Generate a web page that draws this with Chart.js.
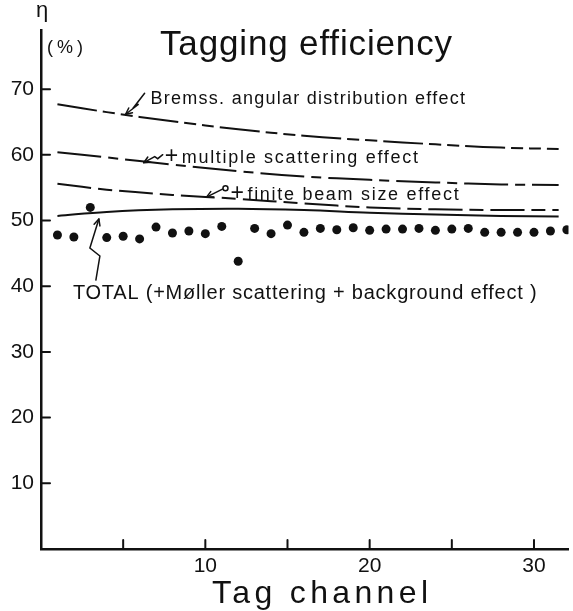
<!DOCTYPE html>
<html>
<head>
<meta charset="utf-8">
<script src="https://cdn.jsdelivr.net/npm/chart.js@4.4.1/dist/chart.umd.min.js"></script>
<style>
  html, body { margin: 0; padding: 0; background: #fff; }
  canvas { display: block; }
</style>
</head>
<body>
<canvas id="taggingChart" width="573" height="611"></canvas>
<script>
// Measured tagging efficiency per tag channel (%)
const channels = [1, 2, 3, 4, 5, 6, 7, 8, 9, 10, 11, 12, 13, 14, 15, 16,
  17, 18, 19, 20, 21, 22, 23, 24, 25, 26, 27, 28, 29, 30, 31, 32];
const efficiency = [47.8, 47.5, 52.0, 47.4, 47.6, 47.2, 49.0, 48.1, 48.4, 48.0,
  49.1, 43.8, 48.8, 48.0, 49.3, 48.2, 48.8, 48.6, 48.9, 48.5,
  48.7, 48.7, 48.8, 48.5, 48.7, 48.8, 48.2, 48.2, 48.2, 48.2, 48.4, 48.6];

// Calculated curves, sampled at these channels
const curveChannels = [1, 4, 8, 12, 16, 20, 24, 28, 31.5];
const bremssCurve = [67.7, 66.5, 65.1, 63.9, 62.9, 62.2, 61.6, 61.1, 60.9];
const multipleCurve = [60.4, 59.6, 58.5, 57.5, 56.7, 56.2, 55.8, 55.5, 55.4];
const beamSizeCurve = [55.6, 54.7, 53.9, 53.3, 52.6, 52.0, 51.7, 51.6, 51.6];
const totalCurve = [50.7, 51.3, 51.7, 51.8, 51.6, 51.2, 50.9, 50.7, 50.6];

// Axis ticks
const xTickValues = [5, 10, 15, 20, 25, 30];
const xTickLabels = [10, 20, 30];
const yTickValues = [10, 20, 30, 40, 50, 60, 70];

const FONT = '"Liberation Sans", Arial, sans-serif';
const INK = '#111';

const toPoints = (xs, ys) => xs.map((x, i) => ({ x, y: ys[i] }));

function curveDataset(label, values, dash) {
  return {
    label,
    type: 'line',
    data: toPoints(curveChannels, values),
    borderColor: INK,
    borderWidth: 2,
    borderDash: dash,
    pointRadius: 0,
    tension: 0.4,
    fill: false,
  };
}

// Draws text stretched between two x positions with even letter spacing
function fitText(ctx, text, left, right, baseline, size) {
  ctx.font = `${size}px ${FONT}`;
  ctx.letterSpacing = '0px';
  const w = ctx.measureText(text).width;
  const n = [...text].length;
  const spacing = n > 1 ? (right - left - w) / (n - 1) : 0;
  ctx.letterSpacing = `${spacing}px`;
  ctx.textAlign = 'left';
  ctx.textBaseline = 'alphabetic';
  ctx.fillText(text, left, baseline);
  ctx.letterSpacing = '0px';
}

function polyline(ctx, pts, ox, oy) {
  ctx.beginPath();
  pts.forEach(([dx, dy], i) => {
    if (i === 0) ctx.moveTo(ox + dx, oy + dy);
    else ctx.lineTo(ox + dx, oy + dy);
  });
  ctx.stroke();
}

// Open arrow head at the last point of a polyline
function arrowHead(ctx, pts, ox, oy, len = 7) {
  const [x1, y1] = pts[pts.length - 2];
  const [x2, y2] = pts[pts.length - 1];
  const a = Math.atan2(y2 - y1, x2 - x1);
  ctx.beginPath();
  for (const s of [-0.45, 0.45]) {
    ctx.moveTo(ox + x2, oy + y2);
    ctx.lineTo(ox + x2 - len * Math.cos(a + s), oy + y2 - len * Math.sin(a + s));
  }
  ctx.stroke();
}

// Curve labels, anchored in data units (channel, efficiency); arrows are
// pixel offsets from the anchor
const curveLabels = [
  { text: 'Bremss. angular distribution effect', at: [6.67, 67.7], endCh: 25.8, size: 18,
    arrow: [[-6, -11], [-16, 2], [-12, 0], [-25, 10]] },
  { plus: true, text: 'multiple scattering effect', at: [7.59, 58.8], endCh: 22.94, size: 18,
    arrow: [[-3, -8], [-8, -4], [-11, -6], [-22, 0]] },
  { plus: true, text: 'finite beam size effect', at: [11.59, 53.1], endCh: 25.42, size: 18,
    arrow: [[-9, -11], [-25, -3]], loop: [-6, -12] },
  { text: 'TOTAL (+Møller scattering + background effect )', at: [1.94, 38.05], endCh: 30.16, size: 20,
    arrow: [[23, -19], [27, -43], [17, -51], [26, -80]] },
];

const annotationPlugin = {
  id: 'annotations',
  afterDraw(chart) {
    const { ctx, scales: { x, y } } = chart;
    ctx.save();
    ctx.fillStyle = INK;
    ctx.strokeStyle = INK;
    ctx.lineCap = 'round';

    // inward tick marks
    ctx.lineWidth = 2;
    xTickValues.forEach(v => {
      const px = x.getPixelForValue(v);
      ctx.beginPath();
      ctx.moveTo(px, y.bottom);
      ctx.lineTo(px, y.bottom - 9);
      ctx.stroke();
    });
    yTickValues.forEach(v => {
      const py = y.getPixelForValue(v);
      ctx.beginPath();
      ctx.moveTo(x.left, py);
      ctx.lineTo(x.left + 9, py);
      ctx.stroke();
    });

    // titles
    fitText(ctx, 'Tagging efficiency', 160, 452, 55, 35);
    ctx.font = `22px ${FONT}`;
    ctx.fillText('η', 36, 17);
    fitText(ctx, '(%)', 47, 83, 53, 18);
    fitText(ctx, 'Tag channel', 212, 428, 603, 32);

    // curve labels and arrows
    ctx.lineWidth = 1.5;
    curveLabels.forEach(lab => {
      const ox = x.getPixelForValue(lab.at[0]);
      const oy = y.getPixelForValue(lab.at[1]);
      const right = x.getPixelForValue(lab.endCh);
      let left = ox;
      if (lab.plus) {
        ctx.font = `23px ${FONT}`;
        ctx.letterSpacing = '0px';
        ctx.fillText('+', ox - 1, oy);
        left = ox + 16;
      }
      fitText(ctx, lab.text, left, right, oy, lab.size);
      polyline(ctx, lab.arrow, ox, oy);
      arrowHead(ctx, lab.arrow, ox, oy);
      if (lab.loop) {
        ctx.beginPath();
        ctx.arc(ox + lab.loop[0], oy + lab.loop[1], 2.5, 0, Math.PI * 2);
        ctx.stroke();
      }
    });
    ctx.restore();
  },
};

new Chart(document.getElementById('taggingChart'), {
  type: 'scatter',
  data: {
    datasets: [
      curveDataset('Bremss. angular distribution effect', bremssCurve, [40, 6, 12, 6, 12, 6]),
      curveDataset('+ multiple scattering effect', multipleCurve, [44, 7, 10, 7]),
      curveDataset('+ finite beam size effect', beamSizeCurve, [34, 7, 14, 7]),
      curveDataset('TOTAL', totalCurve, []),
      {
        label: 'Measured',
        data: toPoints(channels, efficiency),
        pointRadius: 4.5,
        pointBackgroundColor: INK,
        pointBorderWidth: 0,
        showLine: false,
      },
    ],
  },
  options: {
    responsive: false,
    devicePixelRatio: 1,
    animation: false,
    layout: { padding: { top: 30, right: 3, left: 0, bottom: 0 } },
    plugins: {
      legend: { display: false },
      tooltip: { enabled: false },
    },
    scales: {
      x: {
        type: 'linear',
        min: 0,
        max: 32.1,
        afterFit: (scale) => { scale.height = 62; },
        afterBuildTicks: (scale) => {
          scale.ticks = xTickLabels.map(v => ({ value: v }));
        },
        grid: { display: false, drawTicks: false },
        border: { display: true, color: INK, width: 2.5 },
        ticks: {
          color: INK,
          padding: 5,
          maxRotation: 0,
          font: { family: FONT, size: 21 },
        },
      },
      y: {
        min: 0,
        max: 79,
        afterFit: (scale) => { scale.width = 41; },
        afterBuildTicks: (scale) => {
          scale.ticks = yTickValues.map(v => ({ value: v }));
        },
        grid: { display: false, drawTicks: false },
        border: { display: true, color: INK, width: 2.5 },
        ticks: {
          color: INK,
          padding: 7,
          font: { family: FONT, size: 21 },
        },
      },
    },
  },
  plugins: [annotationPlugin],
});
</script>
</body>
</html>
